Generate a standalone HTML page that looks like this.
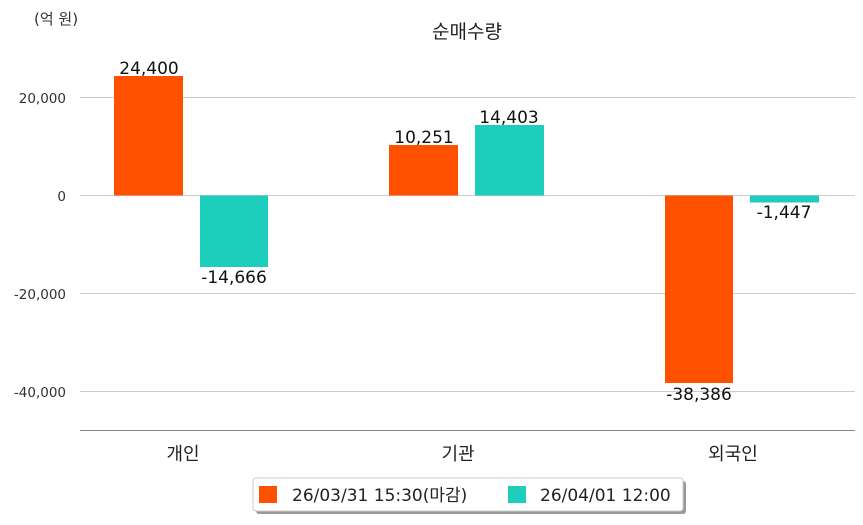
<!DOCTYPE html>
<html><head><meta charset="utf-8"><style>
body{margin:0;background:#fff;}
svg text{font-family:"DejaVu Sans","Noto Sans CJK KR",sans-serif;}
</style></head><body>
<svg width="863" height="520" xmlns="http://www.w3.org/2000/svg">
<text x="34" y="24" font-size="15" fill="#333">(억 원)</text>
<text x="467" y="38" font-size="19" fill="#222" text-anchor="middle">순매수량</text>
<g stroke="#ccc" stroke-width="1">
<line x1="80" y1="97.5" x2="855" y2="97.5"/>
<line x1="80" y1="195.5" x2="855" y2="195.5"/>
<line x1="80" y1="293.5" x2="855" y2="293.5"/>
<line x1="80" y1="391.5" x2="855" y2="391.5"/>
</g>
<line x1="80" y1="430.5" x2="855" y2="430.5" stroke="#888" stroke-width="1"/>
<g font-size="13.5" fill="#333" text-anchor="end">
<text x="66" y="103">20,000</text>
<text x="66" y="201">0</text>
<text x="66" y="299">-20,000</text>
<text x="66" y="397">-40,000</text>
</g>
<rect x="114" y="76" width="69" height="119.5" fill="#ff5000"/>
<rect x="200" y="195.5" width="68" height="71.5" fill="#1ecebd"/>
<rect x="389" y="145" width="69" height="50.5" fill="#ff5000"/>
<rect x="475" y="125" width="69" height="70.5" fill="#1ecebd"/>
<rect x="665" y="195.5" width="68" height="187.5" fill="#ff5000"/>
<rect x="750" y="195.5" width="69" height="7" fill="#1ecebd"/>
<g font-size="17" fill="#111" text-anchor="middle">
<text x="149" y="74">24,400</text>
<text x="234" y="283">-14,666</text>
<text x="424" y="143">10,251</text>
<text x="509" y="123">14,403</text>
<text x="699" y="400">-38,386</text>
<text x="784" y="218">-1,447</text>
</g>
<g font-size="18" fill="#222" text-anchor="middle">
<text x="183" y="460">개인</text>
<text x="458" y="460">기관</text>
<text x="733" y="460">외국인</text>
</g>
<rect x="256" y="481" width="430" height="33" rx="3" fill="#999"/>
<rect x="253" y="478" width="430" height="33" rx="3" fill="#fff" stroke="#ccc"/>
<rect x="259" y="486" width="18" height="17" fill="#ff5000"/>
<text x="292" y="501" font-size="17" fill="#222">26/03/31 15:30(마감)</text>
<rect x="508" y="486" width="18" height="17" fill="#1ecebd"/>
<text x="540" y="501" font-size="17" fill="#222">26/04/01 12:00</text>
</svg>
</body></html>
